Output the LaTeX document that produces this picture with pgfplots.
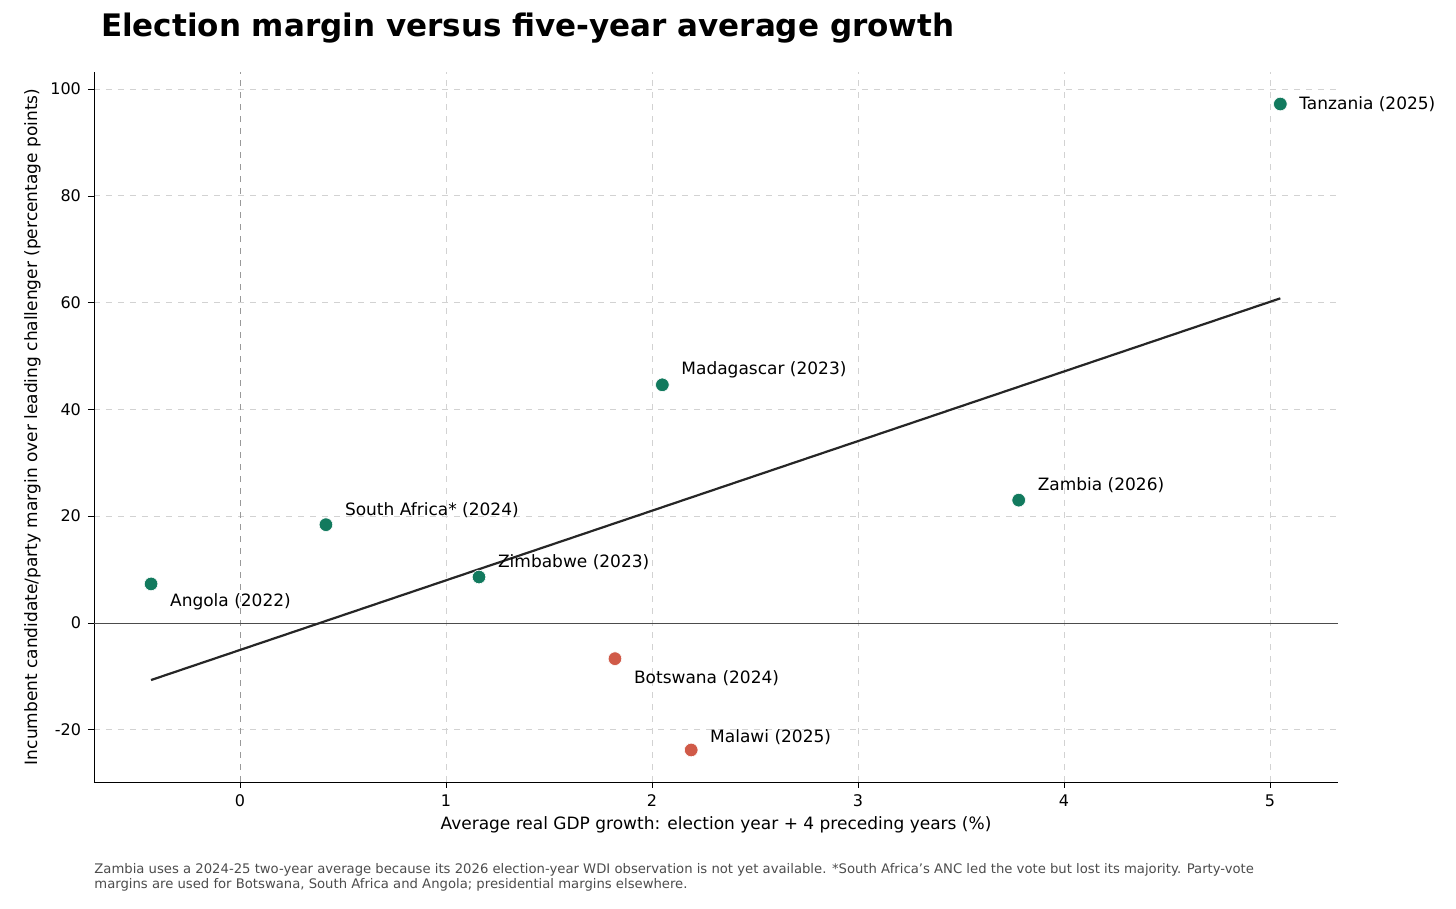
\documentclass[border=0pt]{standalone}
\usepackage{pgfplots}
\pgfplotsset{compat=1.18}
\usepackage{fontspec}
\setmainfont{DejaVu Sans}
\definecolor{grn}{HTML}{127A5E}
\definecolor{rd}{HTML}{D05A48}
\begin{document}
\begin{tikzpicture}[x=1pt,y=1pt]
\path[use as bounding box] (-47,-63.5) rectangle (681,391);
\begin{axis}[at={(0,0)},anchor=south west,scale only axis,width=622pt,height=355pt,
 xmin=-0.709,xmax=5.33,ymin=-29.8,ymax=103.2,
 axis x line*=bottom, axis y line*=left,
 xtick={0,1,2,3,4,5}, ytick={-20,0,20,40,60,80,100},
 tick style={black}, tick align=outside, major tick length=3pt,
 ticklabel style={font=\fontsize{8}{9}\selectfont},
 /pgf/number format/assume math mode=true,
 grid=major, grid style={dashed,gray!35},
 xlabel={Average real GDP growth: election year + 4 preceding years (\%)},
 ylabel={Incumbent candidate/party margin over leading challenger (percentage points)},
 label style={font=\fontsize{8.5}{10}\selectfont},
 xlabel style={yshift=2pt}, ylabel style={yshift=-2pt},
 clip=false]
\addplot[gray!80,dashed,thin] coordinates {(0,-29.8) (0,103.2)};
\addplot[black!70,thin] coordinates {(-0.709,0) (5.33,0)};
\addplot[black!85,line width=1.1pt] coordinates {(-0.432,-10.7) (5.05,60.8)};
\addplot[only marks,mark=*,mark size=3.4pt,color=grn,mark options={draw=white,line width=0.3pt}] coordinates {
(-0.432,7.3) (0.417,18.4) (1.16,8.6) (2.05,44.6) (3.78,23.0) (5.05,97.2)};
\addplot[only marks,mark=*,mark size=3.4pt,color=rd,mark options={draw=white,line width=0.3pt}] coordinates {
(1.82,-6.7) (2.19,-23.8)};
\begin{scope}[every node/.style={font=\fontsize{8.5}{10}\selectfont,anchor=west}]
\node at (axis cs:5.05,97.2) [xshift=6pt] {Tanzania (2025)};
\node at (axis cs:-0.432,7.3) [xshift=6pt,yshift=-9pt] {Angola (2022)};
\node at (axis cs:0.417,18.4) [xshift=6pt,yshift=7.5pt] {South Africa* (2024)};
\node at (axis cs:1.16,8.6) [xshift=6pt,yshift=7.5pt] {Zimbabwe (2023)};
\node at (axis cs:2.05,44.6) [xshift=6pt,yshift=7.5pt] {Madagascar (2023)};
\node at (axis cs:3.78,23.0) [xshift=6pt,yshift=7.5pt] {Zambia (2026)};
\node at (axis cs:1.82,-6.7) [xshift=6pt,yshift=-9.5pt] {Botswana (2024)};
\node at (axis cs:2.19,-23.8) [xshift=6pt,yshift=6.5pt] {Malawi (2025)};
\end{scope}
\end{axis}
\node[anchor=west,font=\fontsize{15.5}{18}\bfseries\selectfont] at (0,377) {Election margin versus five-year average growth};
\node[anchor=north west,align=left,text=black!70,font=\fontsize{6.6}{7.6}\selectfont,inner sep=0pt] at (0,-40.5) {Zambia uses a 2024-25 two-year average because its 2026 election-year WDI observation is not yet available. *South Africa's ANC led the vote but lost its majority. Party-vote\\margins are used for Botswana, South Africa and Angola; presidential margins elsewhere.};
\end{tikzpicture}
\end{document}
